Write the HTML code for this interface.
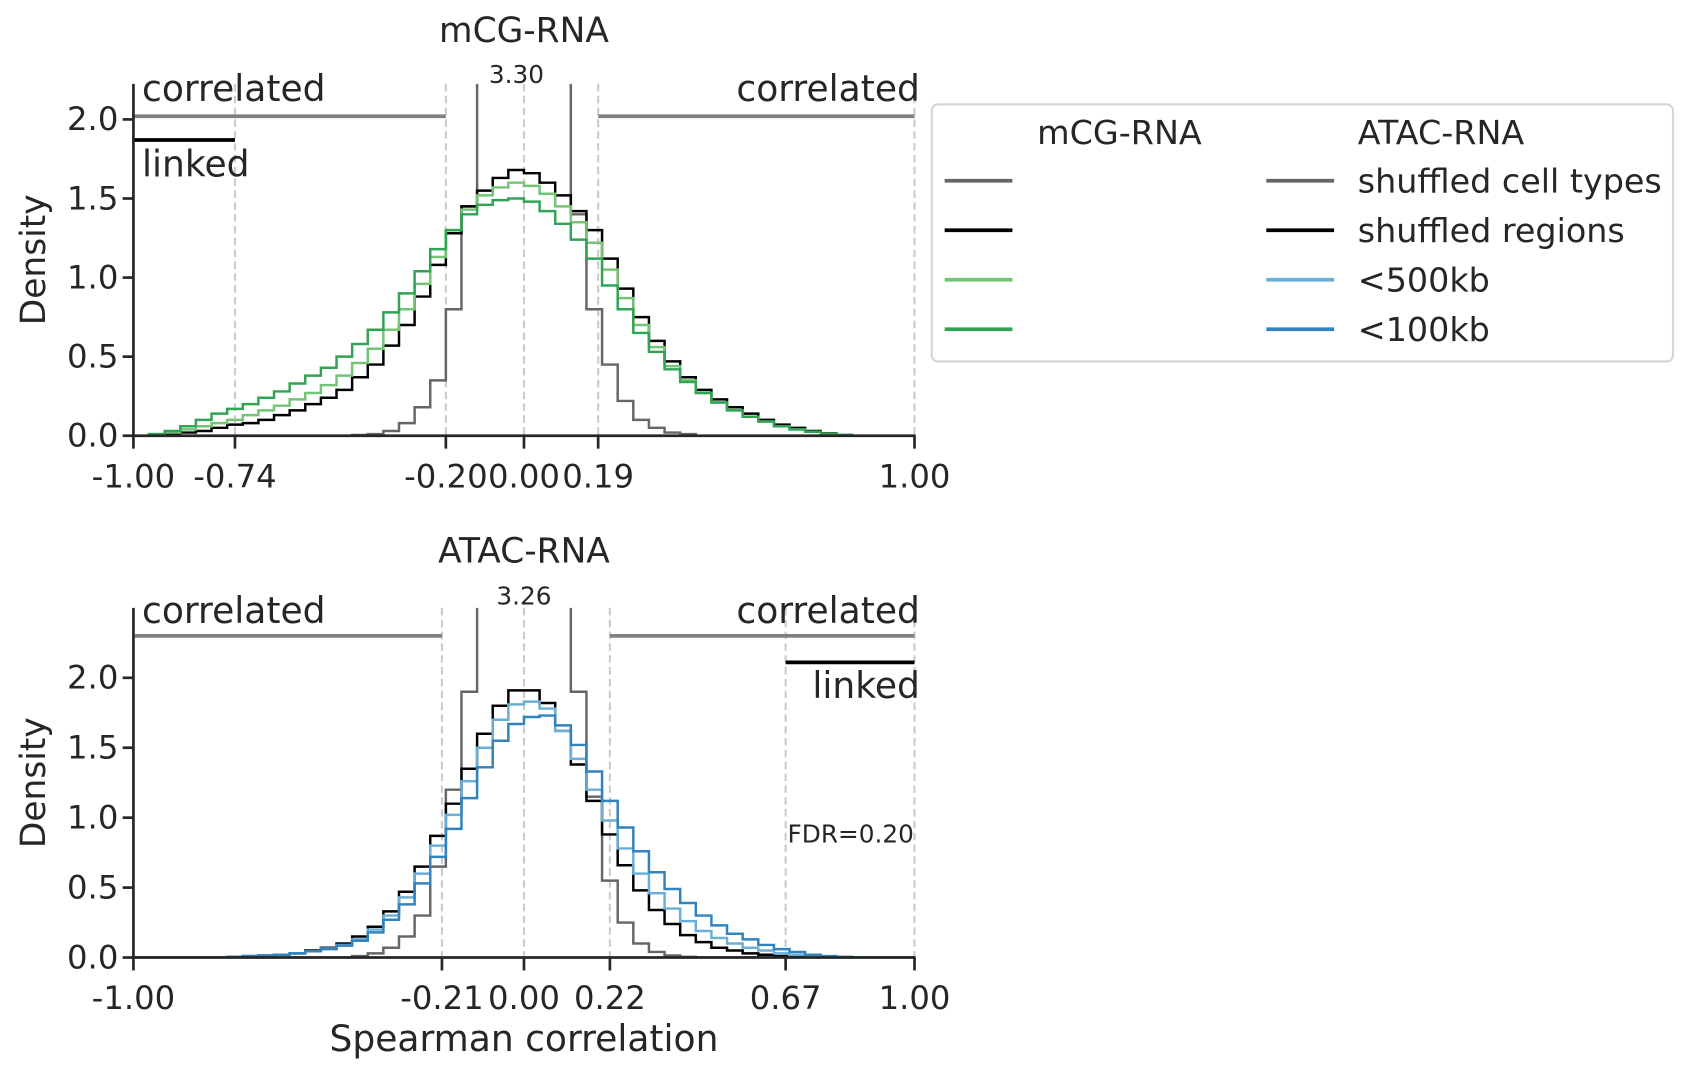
<!DOCTYPE html>
<html><head><meta charset="utf-8"><style>
body{margin:0;background:#fff}
svg{display:block}
text{font-family:"DejaVu Sans","Liberation Sans",sans-serif;fill:#262626}
</style></head><body>
<svg id="chart" xmlns="http://www.w3.org/2000/svg" width="1687" height="1072" viewBox="0 0 1568 996.4">
<rect width="1568" height="996.4" fill="#fff"/>
<g id="root"></g>
</svg>
<script>
// bins: 50 bins of width 0.04 from -1 to 1
const binStart = -1, binWidth = 0.04;
const topGray  = [0,0,0,0,0,0,0,0,0,0,0,0,0,0,0.005,0.01,0.03,0.08,0.18,0.35,0.8,1.45,2.3,2.9,3.3,3.3,3.0,2.4,1.4,0.8,0.45,0.22,0.1,0.05,0.02,0.01,0,0,0,0,0,0,0,0,0,0,0,0,0,0];
const topBlack = [0,0.005,0.01,0.02,0.03,0.05,0.07,0.08,0.1,0.13,0.16,0.2,0.24,0.29,0.37,0.45,0.57,0.7,0.88,1.08,1.28,1.45,1.55,1.63,1.68,1.66,1.6,1.52,1.42,1.3,1.12,0.93,0.75,0.6,0.47,0.37,0.29,0.23,0.18,0.14,0.1,0.07,0.05,0.03,0.015,0.005,0,0,0,0];
const topLight = [0,0.01,0.02,0.04,0.06,0.08,0.1,0.13,0.16,0.19,0.23,0.27,0.32,0.38,0.46,0.55,0.67,0.8,0.96,1.13,1.3,1.43,1.52,1.57,1.6,1.58,1.53,1.45,1.35,1.22,1.05,0.87,0.7,0.56,0.44,0.35,0.27,0.21,0.16,0.12,0.09,0.06,0.04,0.025,0.012,0.004,0,0,0,0];
const topDark  = [0,0.01,0.03,0.06,0.1,0.14,0.17,0.2,0.24,0.28,0.33,0.38,0.43,0.5,0.58,0.67,0.78,0.9,1.04,1.18,1.3,1.4,1.46,1.49,1.5,1.48,1.42,1.34,1.24,1.12,0.95,0.8,0.65,0.53,0.42,0.34,0.27,0.21,0.16,0.12,0.09,0.06,0.04,0.025,0.012,0.004,0,0,0,0];
const botGray  = [0,0,0,0,0,0,0,0,0,0,0,0,0,0,0.01,0.03,0.07,0.15,0.3,0.65,1.2,1.9,2.6,3.1,3.26,3.26,3.1,2.6,1.9,1.15,0.55,0.25,0.1,0.04,0.015,0.005,0,0,0,0,0,0,0,0,0,0,0,0,0,0];
const botBlack = [0,0,0,0,0,0,0.005,0.01,0.015,0.02,0.03,0.05,0.07,0.1,0.15,0.22,0.33,0.47,0.65,0.87,1.1,1.35,1.6,1.8,1.91,1.91,1.82,1.62,1.38,1.12,0.88,0.66,0.48,0.34,0.24,0.16,0.11,0.07,0.05,0.03,0.02,0.01,0.005,0,0,0,0,0,0,0];
const botLight = [0,0,0,0,0,0,0.005,0.01,0.015,0.02,0.03,0.045,0.065,0.09,0.13,0.2,0.3,0.43,0.6,0.8,1.02,1.26,1.5,1.7,1.81,1.83,1.78,1.62,1.42,1.2,0.98,0.78,0.6,0.46,0.35,0.26,0.19,0.14,0.1,0.07,0.05,0.03,0.02,0.01,0.005,0,0,0,0,0];
const botDark  = [0,0,0,0,0,0,0.005,0.01,0.015,0.02,0.03,0.045,0.06,0.085,0.12,0.18,0.27,0.38,0.53,0.72,0.92,1.14,1.36,1.55,1.67,1.72,1.73,1.66,1.52,1.33,1.12,0.93,0.76,0.61,0.49,0.39,0.3,0.23,0.17,0.13,0.09,0.06,0.04,0.02,0.01,0.005,0,0,0,0];
const topXTicks = [-1,-0.74,-0.2,0,0.19,1];
const topXLabels = ["-1.00","-0.74","-0.20","0.00","0.19","1.00"];
const botXTicks = [-1,-0.21,0,0.22,0.67,1];
const botXLabels = ["-1.00","-0.21","0.00","0.22","0.67","1.00"];
const yTicks = [0,0.5,1,1.5,2];
const yLabels = ["0.0","0.5","1.0","1.5","2.0"];
const topCut = [-0.74,-0.2,0,0.19,1];
const botCut = [-0.21,0,0.22,0.67,1];

const NS="http://www.w3.org/2000/svg";
const root=document.getElementById('root');
function el(tag,attrs,parent,txt){const e=document.createElementNS(NS,tag);for(const k in attrs)e.setAttribute(k,attrs[k]);if(txt!==undefined)e.textContent=txt;(parent||root).appendChild(e);return e;}

function panel(cfg){
  const g=el('g',{});
  
  
  const X0=124,X1=850;
  const x=v=>X0+(v+1)/2*(X1-X0);
  const y=v=>cfg.y0-v*cfg.unit;
  const top=cfg.top;
  const cid='clip-'+cfg.name;
  const cp=el('clipPath',{id:cid},g);el('rect',{x:X0,y:top,width:X1-X0,height:cfg.y0-top},cp);
  cfg.cuts.forEach(c=>{const l=el('line',{x1:x(c),x2:x(c),y1:top,y2:cfg.y0,stroke:'#cccccc','stroke-width':2,'stroke-dasharray':'7,4'},g);
    });
  cfg.series.forEach(s=>{
    let d='M'+x(binStart)+','+y(0);
    s.vals.forEach((v,i)=>{const a=binStart+i*binWidth;d+=' L'+x(a)+','+y(v)+' L'+x(a+binWidth)+','+y(v);});
    d+=' L'+x(binStart+s.vals.length*binWidth)+','+y(0);
    const p=el('path',{d:d,fill:'none',stroke:s.color,'stroke-width':2.3,'clip-path':'url(#'+cid+')'},g);
    
  });
  cfg.hlines.forEach(h=>{const l=el('line',{x1:x(h[0]),x2:x(h[1]),y1:y(h[2]),y2:y(h[2]),stroke:h[3],'stroke-width':3.5},g);
    });
  el('line',{x1:X0,x2:X0,y1:top,y2:cfg.y0+1,stroke:'#262626','stroke-width':2.5},g);
  el('line',{x1:X0-1,x2:X1+1,y1:cfg.y0,y2:cfg.y0,stroke:'#262626','stroke-width':2.5},g);
  yTicks.forEach((t,i)=>{el('line',{x1:X0-10,x2:X0,y1:y(t),y2:y(t),stroke:'#262626','stroke-width':2.5},g);
    const tx=el('text',{x:X0-14,y:y(t)+10,'text-anchor':'end','font-size':30},g,yLabels[i]);
    });
  cfg.xt.forEach((t,i)=>{el('line',{x1:x(t),x2:x(t),y1:cfg.y0,y2:cfg.y0+12,stroke:'#262626','stroke-width':2.5},g);
    const tx=el('text',{x:x(t),y:cfg.y0+48,'text-anchor':'middle','font-size':30},g,cfg.xl[i]);
    });
  const yl=el('text',{x:0,y:0,'text-anchor':'middle','font-size':32,transform:'translate(42,'+((top+cfg.y0)/2)+') rotate(-90)'},g,'Density');
  
  const ti=el('text',{x:487,y:cfg.titleY,'text-anchor':'middle','font-size':32},g,cfg.title);
  
  cfg.texts.forEach(t=>{const tx=el('text',{x:t[0],y:t[1],'text-anchor':t[3],'font-size':t[4]},g,t[2]);
    });
}

panel({name:'mcg-rna-panel',y0:405,unit:147,top:78,titleY:39,title:'mCG-RNA',cuts:topCut,xt:topXTicks,xl:topXLabels,
 series:[{name:'mcg-shuffled-cell-types',vals:topGray,color:'#666666'},{name:'mcg-shuffled-regions',vals:topBlack,color:'#000000'},
  {name:'mcg-500kb',vals:topLight,color:'#74c476'},{name:'mcg-100kb',vals:topDark,color:'#31a354'}],
 hlines:[[-1,-0.2,2.02,'#808080'],[0.19,1,2.02,'#808080'],[-1,-0.74,1.87,'#000000']],
 texts:[[132,94,'correlated','start',33.5],[855,94,'correlated','end',33.5],[132,164,'linked','start',33.5],[480,77,'3.30','middle',23]]});
panel({name:'atac-rna-panel',y0:890,unit:130,top:565,titleY:523,title:'ATAC-RNA',cuts:botCut,xt:botXTicks,xl:botXLabels,
 series:[{name:'atac-shuffled-cell-types',vals:botGray,color:'#666666'},{name:'atac-shuffled-regions',vals:botBlack,color:'#000000'},
  {name:'atac-500kb',vals:botLight,color:'#6baed6'},{name:'atac-100kb',vals:botDark,color:'#3182bd'}],
 hlines:[[-1,-0.21,2.30,'#808080'],[0.22,1,2.30,'#808080'],[0.67,1,2.11,'#000000']],
 texts:[[132,579,'correlated','start',33.5],[855,579,'correlated','end',33.5],[855,649,'linked','end',33.5],[487,562,'3.26','middle',23],[732,783,'FDR=0.20','start',23]]});

const xt=el('text',{x:487,y:977,'text-anchor':'middle','font-size':33.5},root,'Spearman correlation');


const lg=el('g',{});


el('rect',{x:866,y:97,width:689,height:239,rx:6,fill:'#fff',stroke:'#d5d5d5','stroke-width':2},lg);
el('text',{x:964,y:134,'font-size':31},lg,'mCG-RNA');
el('text',{x:1262,y:134,'font-size':31},lg,'ATAC-RNA');
const legColsL=['#666666','#000000','#74c476','#31a354'];
const legColsR=['#666666','#000000','#6baed6','#3182bd'];
const legLabels=['shuffled cell types','shuffled regions','<500kb','<100kb'];
legLabels.forEach((lab,i)=>{const yy=168+i*46;
  el('line',{x1:878,x2:941,y1:yy,y2:yy,stroke:legColsL[i],'stroke-width':3.5},lg);
  el('line',{x1:1177,x2:1240,y1:yy,y2:yy,stroke:legColsR[i],'stroke-width':3.5},lg);
  const t=el('text',{x:1262,y:yy+11,'font-size':31},lg,lab);
  });
</script>
</body></html>
